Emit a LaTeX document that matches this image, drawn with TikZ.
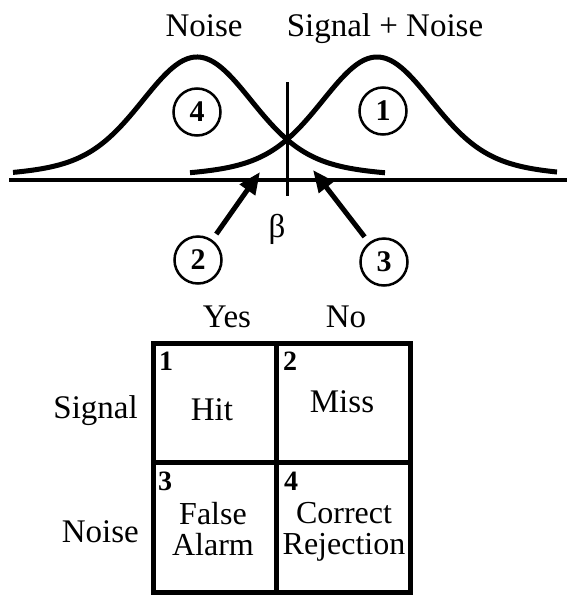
\documentclass[tikz,border=0pt]{standalone}
\usepackage{fontspec}
\setmainfont{Liberation Serif}
\usetikzlibrary{arrows.meta}
\begin{document}
\begin{tikzpicture}[x=1pt,y=-1pt,
  lbl/.style={font=\fontsize{33}{33}\selectfont, inner sep=0pt},
  num/.style={circle, draw, line width=2.5pt, minimum size=47pt, inner sep=0pt, font=\fontsize{30}{30}\selectfont\bfseries},
  curve/.style={line width=5pt},
  arr/.style={line width=5pt, -{Triangle[length=22pt,width=18pt]}, shorten <=7pt},
  cellnum/.style={font=\fontsize{28}{28}\selectfont\bfseries, inner sep=0pt, anchor=base west},
  cell/.style={font=\fontsize{33}{29}\selectfont, inner sep=0pt, anchor=base},
  cell2/.style={font=\fontsize{32}{31}\selectfont, inner sep=0pt, align=center, anchor=north},
  border/.style={line width=5pt}]
\useasboundingbox (0,0) rectangle (567,595);
% titles
\node[lbl, anchor=base] (tN) at (204,36) {Noise};
\node[lbl, anchor=base] (tSN) at (385,36) {Signal + Noise};
% axis and criterion
\coordinate (axL) at (9,180);
\coordinate (axR) at (567,180);
\draw[line width=3.5pt] (axL) -- (axR);
\coordinate (vT) at (287,82);
\coordinate (vB) at (287,196);
\draw[line width=3pt] (vT) -- (vB);
% curves
\draw[curve] plot[domain=13:385, samples=150, smooth] (\x, {177-120*(0.8*exp(-0.5*((\x-197)/52)^2)+0.2*exp(-0.5*((\x-197)/100)^2))});
\draw[curve] plot[domain=190:557, samples=150, smooth] (\x, {177-120*(0.8*exp(-0.5*((\x-377)/52)^2)+0.2*exp(-0.5*((\x-377)/100)^2))});
% circled numbers
\node[num] (c4) at (197,112) {4};
\node[num] (c1) at (383,111) {1};
\node[num] (c2) at (198,260) {2};
\node[num] (c3) at (384,262) {3};
\node[lbl] (beta) at (277,229) {β};
% arrows
\coordinate (t2) at (260,172);
\coordinate (t3) at (313,170);
\draw[arr] (c2) -- (t2);
\draw[arr] (c3) -- (t3);
% column and row labels
\node[lbl, anchor=base] (yes) at (227,327) {Yes};
\node[lbl, anchor=base] (no) at (346,327) {No};
\node[lbl, anchor=base east] (rS) at (138,418) {Signal};
\node[lbl, anchor=base east] (rN) at (139,542) {Noise};
% table
\coordinate (TL) at (153,343);
\coordinate (BR) at (410,592);
\coordinate (MT) at (276,343);
\coordinate (MB) at (276,592);
\coordinate (ML) at (153,462);
\coordinate (MR) at (410,462);
\draw[border] (TL) rectangle (BR);
\draw[border] (MT) -- (MB);
\draw[border] (ML) -- (MR);
% cell numbers
\node[cellnum] (n1) at (159,370) {1};
\node[cellnum] (n2) at (283,370) {2};
\node[cellnum] (n3) at (158,490) {3};
\node[cellnum] (n4) at (284,490) {4};
% cell texts
\node[cell] (hit) at (212,420) {Hit};
\node[cell] (miss) at (342,412) {Miss};
\node[cell2] (fa) at (213,502) {False\\Alarm};
\node[cell2] (cr) at (344,502) {Correct\\Rejection};
\end{tikzpicture}
\end{document}
